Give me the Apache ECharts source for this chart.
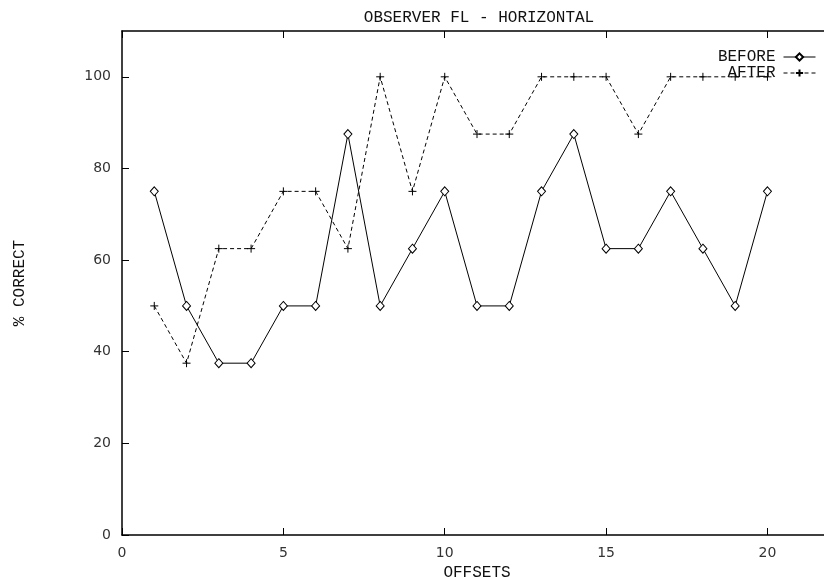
<!DOCTYPE html>
<html><head><meta charset="utf-8">
<script src="https://cdn.jsdelivr.net/npm/echarts@6/dist/echarts.min.js"></script>
<style>html,body{margin:0;padding:0;background:#fff}#c{width:824px;height:577px}</style>
</head><body><div id="c"></div>
<script>
var offsets = [1,2,3,4,5,6,7,8,9,10,11,12,13,14,15,16,17,18,19,20];
var before = [75,50,37.5,37.5,50,50,87.5,50,62.5,75,50,50,75,87.5,62.5,62.5,75,62.5,50,75];
var after = [50,37.5,62.5,62.5,75,75,62.5,100,75,100,87.5,87.5,100,100,100,87.5,100,100,100,100];
var xTicks = [0,5,10,15,20];
var yTicks = [0,20,40,60,80,100];

function pairs(xs, ys){ return xs.map(function(x,i){return [x, ys[i]];}); }
var chart = echarts.init(document.getElementById('c'), null, {renderer:'canvas'});
var mono = 'Liberation Mono, Courier New, monospace';
var sans = 'DejaVu Sans, sans-serif';
chart.setOption({
  animation:false,
  backgroundColor:'#fff',
  title:{text:'OBSERVER FL - HORIZONTAL', left:474, top:5, textAlign:'center',
    textStyle:{fontFamily:mono, fontSize:16, fontWeight:'normal', color:'#111'}},
  legend:{
    right:3, top:44, orient:'vertical', align:'right', itemGap:0, itemWidth:32, itemHeight:9,
    textStyle:{fontFamily:mono, fontSize:16, color:'#111', padding:[0,3,0,0]},
    lineStyle:{width:1},
    data:['BEFORE','AFTER']
  },
  grid:{left:122, top:31, width:710, height:504, containLabel:false, outerBoundsMode:'none'},
  xAxis:[{
    type:'value', min:0, max:22, interval:5, position:'bottom',
    name:'OFFSETS', nameLocation:'middle', nameGap:28,
    nameTextStyle:{fontFamily:mono, fontSize:16, color:'#111'},
    axisLine:{show:true, lineStyle:{color:'#000', width:1.5}},
    axisTick:{show:true, inside:true, length:7, lineStyle:{color:'#000'}},
    axisLabel:{fontFamily:sans, fontSize:14, color:'#333', margin:11, showMaxLabel:false,
      formatter:function(v){return xTicks.indexOf(v)>=0? String(v):'';}},
    splitLine:{show:false}
  },{
    type:'value', min:0, max:22, interval:5, position:'top',
    axisLine:{show:true, onZero:false, lineStyle:{color:'#000', width:1.5}},
    axisTick:{show:true, inside:true, length:7, lineStyle:{color:'#000'}},
    axisLabel:{show:false}, splitLine:{show:false}
  }],
  yAxis:[{
    type:'value', min:0, max:110, interval:20, position:'left',
    name:'% CORRECT', nameLocation:'middle', nameGap:94, nameRotate:90,
    nameTextStyle:{fontFamily:mono, fontSize:16, color:'#111'},
    axisLine:{show:true, lineStyle:{color:'#000', width:1.5}},
    axisTick:{show:true, inside:true, length:7, lineStyle:{color:'#000'}},
    axisLabel:{fontFamily:sans, fontSize:14, color:'#333', margin:11, showMaxLabel:false,
      formatter:function(v){return yTicks.indexOf(v)>=0? String(v):'';}},
    splitLine:{show:false}
  }],
  series:[{
    name:'BEFORE', type:'line', data:pairs(offsets,before),
    symbol:'diamond', symbolSize:[8,9], showAllSymbol:true,
    itemStyle:{color:'#fff', borderColor:'#000', borderWidth:1},
    lineStyle:{color:'#000', width:1}, z:3
  },{
    name:'AFTER', type:'line', data:pairs(offsets,after),
    symbol:'path://M4,0 L4,8 M0,4 L8,4', symbolSize:8, showAllSymbol:true,
    itemStyle:{color:'none', borderColor:'#000', borderWidth:1},
    lineStyle:{color:'#000', width:1, type:[4,3]}, z:2
  }]
});
</script></body></html>
